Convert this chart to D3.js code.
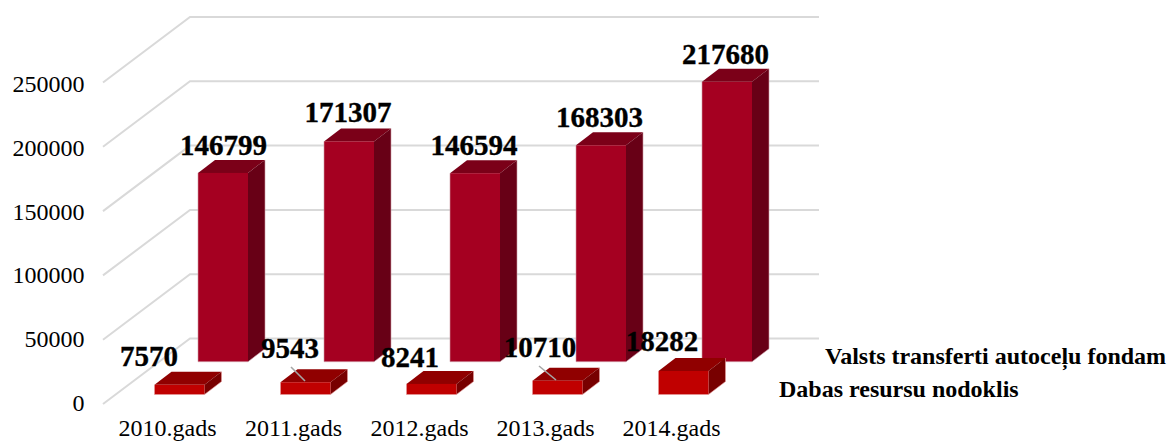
<!DOCTYPE html>
<html><head><meta charset="utf-8">
<script src="https://cdn.jsdelivr.net/npm/d3@7"></script>
<style>html,body{margin:0;padding:0;background:#fff}svg{display:block}text{font-family:"Liberation Serif","Times New Roman",serif;fill:#000}</style>
</head><body><svg id="c" width="1168" height="441"></svg>
<script>
const years=["2010.gads","2011.gads","2012.gads","2013.gads","2014.gads"];
const transfers=[146799,171307,146594,168303,217680];
const resourceTax=[7570,9543,8241,10710,18282];
const yTicks=[0,50000,100000,150000,200000,250000];
const seriesNames=["Valsts transferti autoceļu fondam","Dabas resursu nodoklis"];

const svg=d3.select("#c");
const W=50,step=126;
const x=d3.scaleBand().domain(years).range([154.5,154.5+W+4*step]).paddingInner(1-W/step).paddingOuter(0);
const y=d3.scaleLinear().domain([0,250000]).range([321.5,0]); // height above base, px
const h=v=>y(0)-y(v);
const wallFrontX=103,wallBackX=190,gridEnd=819,frontZero=404,backZero=338.5;
const depth={dx:17,dy:13};
const layers=[
 {vals:transfers,ox:43.5,base:361.7,front:"#A50021",top:"#7B0018",side:"#680016",edge:"#CF9AA6"},
 {vals:resourceTax,ox:0,base:394.5,front:"#C00000",top:"#900000",side:"#780000",edge:"#E59A9A"}
];
// walls
const grid=svg.append("g").attr("fill","none").attr("stroke","#D9D9D9").attr("stroke-width",2);
yTicks.forEach(t=>{
  const yf=frontZero-h(t),yb=backZero-h(t);
  grid.append("path").attr("d",`M${wallFrontX},${yf}L${wallBackX},${yb}L${gridEnd},${yb}`);
});
// bars
layers.forEach(L=>{
  const g=svg.append("g");
  years.forEach((yr,i)=>{
    const x0=x(yr)+L.ox,x1=x0+x.bandwidth(),b=L.base,t=b-h(L.vals[i]);
    g.append("path").attr("fill",L.top).attr("d",`M${x0},${t}L${x0+depth.dx},${t-depth.dy}L${x1+depth.dx},${t-depth.dy}L${x1},${t}Z`);
    g.append("path").attr("fill",L.side).attr("d",`M${x1},${t}L${x1+depth.dx},${t-depth.dy}L${x1+depth.dx},${b-depth.dy}L${x1},${b}Z`);
    g.append("rect").attr("x",x0).attr("y",t).attr("width",x.bandwidth()).attr("height",b-t).attr("fill",L.front);
    g.append("path").attr("fill","none").attr("stroke",L.edge).attr("stroke-width",.6).attr("d",`M${x0},${t}V${b}H${x1}L${x1+depth.dx},${b-depth.dy}V${t-depth.dy}`);
  });
});
// leader lines
[[1,291,367,305,381],[3,539,366,556,380]].forEach(d=>{
  svg.append("line").attr("x1",d[1]).attr("y1",d[2]).attr("x2",d[3]).attr("y2",d[4]).attr("stroke","#A6A6A6").attr("stroke-width",1.6);
});
// axes
const yAxis=d3.axisLeft(d3.scaleLinear().domain([0,250000]).range([402.3,83.3])).tickValues(yTicks).tickSize(0).tickPadding(0).tickFormat(d3.format("d"));
const ya=svg.append("g").attr("transform","translate(84.5,0)").call(yAxis);
ya.select(".domain").remove();
ya.selectAll("text").attr("font-size",24).attr("font-family",null).attr("dy","0.34em");
const xa=svg.append("g").call(d3.axisBottom(d3.scalePoint().domain(years).range([167,167+4*step])).tickSize(0).tickPadding(0));
xa.select(".domain").remove();
xa.selectAll("text").attr("font-size",24).attr("font-family",null).attr("y",435.5).attr("dy",null);
// data labels
const labelPos={t:[[223.5,155],[348,122],[474,155],[599.5,127],[725.5,64]],r:[[149,366],[290,358],[410,367],[540,357],[662,351]]};
const lab=svg.append("g").attr("text-anchor","middle").attr("font-weight","bold").attr("font-size",29).attr("stroke","#000").attr("stroke-width",.35);
transfers.forEach((v,i)=>lab.append("text").attr("x",labelPos.t[i][0]).attr("y",labelPos.t[i][1]).text(v));
resourceTax.forEach((v,i)=>lab.append("text").attr("x",labelPos.r[i][0]).attr("y",labelPos.r[i][1]).text(v));
// series names
svg.append("text").attr("x",825).attr("y",364).attr("font-weight","bold").attr("font-size",24).text(seriesNames[0]);
svg.append("text").attr("x",779).attr("y",397).attr("font-weight","bold").attr("font-size",24).text(seriesNames[1]);
</script></body></html>
